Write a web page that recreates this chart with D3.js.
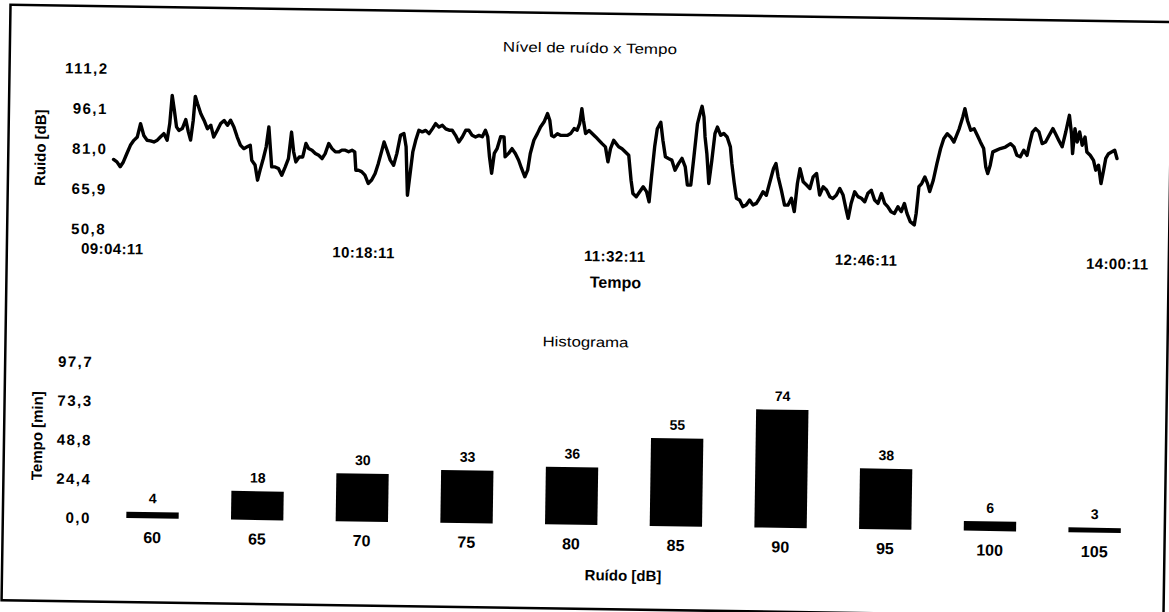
<!DOCTYPE html>
<html>
<head>
<meta charset="utf-8">
<script src="https://cdn.jsdelivr.net/npm/d3@7"></script>
<style>
  html, body { margin: 0; padding: 0; background: #fff; }
  svg { display: block; }
  text { font-family: "Liberation Sans", Arial, sans-serif; fill: #000; }
</style>
</head>
<body>
<svg id="chart" width="1169" height="612"></svg>
<script>
// Noise level log: minutes elapsed since 09:04:11 and measured level in dB
const noiseMinutes = [
  0.1,1.1,2.1,3.0,4.0,5.0,6.0,7.0,7.9,8.9,9.9,10.9,11.9,12.9,13.8,14.8,15.8,16.5,17.1,17.8,
  18.5,19.2,20.2,21.2,22.0,22.7,23.4,23.9,24.6,25.6,26.6,27.6,28.6,29.5,30.5,31.5,32.5,33.5,34.4,35.4,
  36.4,37.4,38.4,39.4,40.3,40.8,41.8,42.6,43.3,44.2,45.0,45.7,46.2,46.7,47.7,
  48.7,49.7,50.7,51.6,52.4,53.1,53.8,54.8,55.8,56.7,57.5,58.5,59.5,60.5,61.5,62.4,63.4,64.4,65.4,66.4,
  67.3,68.3,69.3,70.3,71.1,71.5,72.3,73.2,74.2,75.2,76.2,77.2,78.1,79.1,79.7,80.6,81.6,82.6,83.5,84.5,
  85.5,86.2,86.8,87.5,88.2,89.0,89.9,90.9,91.9,92.9,93.9,94.8,95.8,96.8,97.8,
  98.8,99.7,100.7,101.7,102.7,103.7,104.6,105.6,106.6,107.6,108.6,109.5,110.2,110.8,111.5,112.2,113.0,114.0,115.0,115.4,
  116.4,117.4,118.4,119.4,120.3,121.3,122.1,122.8,123.8,124.8,125.7,126.7,127.7,128.4,129.0,129.7,130.7,131.6,132.6,133.6,
  134.6,135.6,136.5,137.2,137.8,138.3,139.0,140.0,141.0,142.0,142.9,143.9,144.9,145.7,146.4,147.3,
  148.8,149.8,150.8,151.8,152.6,153.2,154.2,155.2,156.2,157.2,158.0,158.6,159.4,160.1,161.1,161.8,162.6,163.5,164.5,165.5,
  166.5,167.5,168.5,169.2,170.2,171.0,171.9,172.6,173.2,173.8,174.2,174.8,175.5,176.3,177.1,177.8,178.8,179.7,180.7,181.7,
  182.2,183.0,183.7,184.7,185.6,186.6,187.6,188.6,189.6,190.5,191.5,192.5,193.5,194.5,195.2,195.9,196.9,197.9,
  198.9,199.9,200.8,201.6,202.3,203.3,204.3,205.3,206.2,207.2,208.2,209.2,210.2,211.2,212.1,213.1,214.1,215.1,216.1,216.7,
  217.5,218.5,219.5,220.5,221.5,222.4,223.4,224.4,225.4,226.4,227.4,228.3,229.3,230.3,231.3,232.3,233.2,234.0,235.0,236.2,
  236.7,237.4,238.2,239.1,239.9,240.6,241.6,242.6,243.6,244.5,245.5,246.5,247.5,
  249.0,250.0,250.6,251.4,252.4,253.4,254.4,255.3,256.3,257.0,257.6,258.3,259.0,260.0,261.2,262.7,264.2,265.2,266.1,267.1,
  268.1,269.1,269.8,270.6,271.5,272.5,273.5,274.5,275.5,276.6,277.4,278.4,279.4,280.4,281.4,282.1,282.5,283.1,283.8,284.5,
  285.3,286.1,286.7,287.7,288.7,289.4,290.2,291.0,291.7,292.3,293.1,294.1,294.9,295.6
];
const noiseDb = [
  76.9,76.0,74.2,76.0,79.2,82.3,84.2,85.5,90.5,86.1,84.3,84.1,83.7,84.4,85.6,86.9,84.4,90.7,101.3,95.7,
  89.5,88.2,88.9,92.3,87.7,84.6,92.1,101.1,98.3,94.6,92.1,89.0,90.3,85.9,88.4,91.0,92.2,90.4,92.3,89.8,
  86.1,83.0,81.7,82.4,83.0,77.4,75.6,69.9,73.7,78.1,82.5,90.0,82.5,75.0,75.0,
  74.4,71.9,75.1,78.2,88.2,80.8,77.0,78.9,78.9,84.0,82.1,81.5,80.3,79.6,78.4,80.3,84.1,82.2,81.0,81.0,
  81.7,81.7,81.1,81.7,81.1,74.2,74.2,73.7,72.4,69.3,70.6,73.1,76.9,81.9,85.0,81.9,78.2,76.3,80.7,87.6,
  88.3,83.3,65.1,73.3,81.4,85.8,89.6,89.0,89.6,88.4,90.3,92.2,90.9,91.6,90.3,
  89.8,89.8,87.9,85.4,87.3,89.9,89.9,88.0,87.4,88.0,87.5,90.0,87.5,80.0,73.8,81.3,83.1,87.6,87.6,80.1,
  81.4,83.2,81.4,78.9,75.8,72.7,75.2,81.5,86.5,89.0,91.5,93.4,96.6,94.1,88.4,87.9,89.1,88.5,88.5,88.5,
  89.2,91.1,90.5,93.0,98.6,94.3,89.3,90.5,89.3,88.1,86.9,85.6,84.4,78.8,83.8,86.9,
  84.5,83.8,82.6,81.4,72.0,67.0,65.8,67.7,69.6,67.8,64.0,73.4,84.7,91.5,94.0,87.2,81.0,80.4,79.8,76.0,
  78.5,80.5,77.3,70.5,70.5,81.1,93.6,97.4,100.2,96.2,88.7,82.5,71.2,80.0,90.0,92.5,89.4,90.1,88.8,85.1,
  78.9,71.4,65.8,65.1,62.7,63.3,65.2,63.4,64.0,65.9,68.4,67.1,72.2,77.2,79.1,74.1,69.1,63.5,
  63.5,66.1,61.1,71.7,77.3,72.4,71.2,69.9,74.3,75.6,67.5,70.6,69.4,66.9,66.3,67.5,70.1,67.6,62.0,58.9,
  64.5,68.9,67.1,66.5,65.2,68.4,69.6,65.9,64.7,68.4,64.7,63.5,61.6,61.0,63.5,61.7,64.8,61.1,58.0,56.8,
  61.1,71.2,72.4,74.9,72.5,69.4,73.7,80.0,85.6,89.4,91.3,90.1,88.2,
  93.2,97.6,100.8,96.4,92.7,93.3,90.8,88.4,85.9,79.0,76.5,79.7,84.7,85.3,86.0,86.6,87.9,86.7,83.6,83.0,
  85.5,83.6,88.0,92.4,93.7,92.5,88.1,88.7,91.2,93.8,91.9,89.4,87.0,92.6,98.9,92.0,84.5,93.9,88.9,92.7,
  87.7,90.8,85.2,84.0,82.1,78.4,80.3,73.4,78.4,82.9,84.7,85.4,86.0,82.9
];
const noiseTicks = [50.8, 65.9, 81.0, 96.1, 111.2];
const timeTickLabels = ["09:04:11", "10:18:11", "11:32:11", "12:46:11", "14:00:11"];

// Histogram: minutes spent in each noise band
const histBins = ["60", "65", "70", "75", "80", "85", "90", "95", "100", "105"];
const histMinutes = [4, 18, 30, 33, 36, 55, 74, 38, 6, 3];
const histTicks = [0, 24.4, 48.8, 73.3, 97.7];

const comma = d => d.toFixed(1).replace(".", ",");

const svg = d3.select("#chart");
// the printed sheet sits slightly tilted
const page = svg.append("g").attr("transform", "rotate(0.86,60,306)");

page.append("rect")
  .attr("x", 6).attr("y", 5.5).attr("width", 1162).attr("height", 595.5)
  .attr("fill", "none").attr("stroke", "#000").attr("stroke-width", 2.5);

// ---------- Noise level over time ----------
const parseClock = d3.timeParse("%H:%M:%S");
const tickDates = timeTickLabels.map(parseClock);
const t0 = tickDates[0];
const series = noiseMinutes.map((m, i) => ({ date: new Date(t0.getTime() + m * 60000), db: noiseDb[i] }));

const x = d3.scaleTime().domain([t0, tickDates[tickDates.length - 1]]).range([111, 1116]);
const y = d3.scaleLinear().domain([noiseTicks[0], noiseTicks[noiseTicks.length - 1]]).range([228, 67.5]);

page.append("text").attr("x", 586).attr("y", 40).attr("dy", "0.35em")
  .attr("text-anchor", "middle").attr("font-size", 14)
  .attr("textLength", 174).attr("lengthAdjust", "spacingAndGlyphs")
  .text("Nível de ruído x Tempo");

const yAxisTop = page.append("g").attr("transform", "translate(105,0)")
  .call(d3.axisLeft(y).tickValues(noiseTicks).tickFormat(comma).tickSize(0).tickPadding(0));
yAxisTop.select(".domain").remove();
yAxisTop.selectAll("text").attr("font-size", 15).attr("font-weight", "bold")
  .attr("letter-spacing", 1.5).attr("font-family", null).attr("dy", "0.35em");

const xAxisTop = page.append("g").attr("transform", "translate(0,248)")
  .call(d3.axisBottom(x).tickValues(tickDates).tickFormat(d3.timeFormat("%H:%M:%S")).tickSize(0).tickPadding(0));
xAxisTop.select(".domain").remove();
xAxisTop.selectAll("text").attr("font-size", 15).attr("font-weight", "bold")
  .attr("letter-spacing", 0.4).attr("font-family", null).attr("y", 0).attr("dy", "0.35em");

page.append("text").attr("transform", "translate(38,148) rotate(-90)")
  .attr("dy", "0.35em").attr("text-anchor", "middle").attr("font-size", 15).attr("font-weight", "bold")
  .text("Ruido [dB]");

page.append("text").attr("x", 615).attr("y", 274).attr("dy", "0.35em")
  .attr("text-anchor", "middle").attr("font-size", 16).attr("font-weight", "bold")
  .text("Tempo");

page.append("path").datum(series)
  .attr("fill", "none").attr("stroke", "#000").attr("stroke-width", 3.4)
  .attr("stroke-linejoin", "round").attr("stroke-linecap", "round")
  .attr("d", d3.line().x(d => x(d.date)).y(d => y(d.db)));

// ---------- Histogram ----------
const xb = d3.scaleBand().domain(histBins).range([103.3, 1150.2]).paddingInner(0.5).paddingOuter(0.25);
const yb = d3.scaleLinear().domain([0, histTicks[histTicks.length - 1]]).range([517, 361]);

page.append("text").attr("x", 586).attr("y", 334).attr("dy", "0.35em")
  .attr("text-anchor", "middle").attr("font-size", 14)
  .attr("textLength", 86).attr("lengthAdjust", "spacingAndGlyphs")
  .text("Histograma");

const yAxisHist = page.append("g").attr("transform", "translate(94,0)")
  .call(d3.axisLeft(yb).tickValues(histTicks).tickFormat(comma).tickSize(0).tickPadding(0));
yAxisHist.select(".domain").remove();
yAxisHist.selectAll("text").attr("font-size", 15).attr("font-weight", "bold")
  .attr("letter-spacing", 1.5).attr("font-family", null).attr("dy", "0.35em");

page.append("text").attr("transform", "translate(39,436) rotate(-90)")
  .attr("dy", "0.35em").attr("text-anchor", "middle").attr("font-size", 15).attr("font-weight", "bold")
  .text("Tempo [min]");

page.append("g").selectAll("rect").data(histMinutes).join("rect")
  .attr("x", (d, i) => xb(histBins[i]))
  .attr("width", xb.bandwidth())
  .attr("y", d => yb(d))
  .attr("height", d => yb(0) - yb(d))
  .attr("fill", "#000");

page.append("g").selectAll("text").data(histMinutes).join("text")
  .attr("x", (d, i) => xb(histBins[i]) + xb.bandwidth() / 2)
  .attr("y", d => yb(d) - 13.5).attr("dy", "0.35em")
  .attr("text-anchor", "middle").attr("font-size", 14).attr("font-weight", "bold")
  .text(d => d);

const xAxisHist = page.append("g").attr("transform", "translate(0,536)")
  .call(d3.axisBottom(xb).tickSize(0).tickPadding(0));
xAxisHist.select(".domain").remove();
xAxisHist.selectAll("text").attr("font-size", 16).attr("font-weight", "bold")
  .attr("font-family", null).attr("y", 0).attr("dy", "0.35em");

page.append("text").attr("x", 627).attr("y", 567).attr("dy", "0.35em")
  .attr("text-anchor", "middle").attr("font-size", 15).attr("font-weight", "bold")
  .text("Ruído [dB]");
</script>
</body>
</html>
